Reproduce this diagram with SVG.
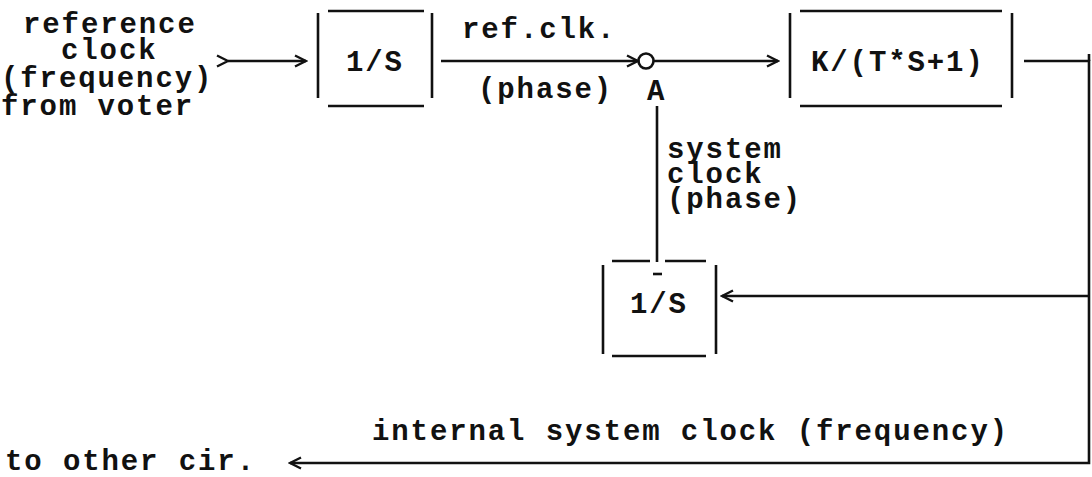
<svg xmlns="http://www.w3.org/2000/svg" width="1092" height="477" viewBox="0 0 1092 477">
  <style>
    .t { font-family: "Liberation Mono", "DejaVu Sans Mono", monospace; font-size: 29px; font-weight: bold; letter-spacing: 1.9px; fill: #111; }
    .ln { stroke: #111; stroke-width: 2.6; fill: none; }
    .wire { stroke: #111; stroke-width: 2.6; fill: none; }
  </style>
  <defs>
    <!-- typed-style open chevron used at both ends of the signal lines -->
    <marker id="chev" markerUnits="userSpaceOnUse" markerWidth="14" markerHeight="14" viewBox="0 0 14 14" refX="12" refY="7" orient="auto">
      <path d="M1,1.5 L12,7 L1,12.5" fill="none" stroke="#111" stroke-width="2.4"/>
    </marker>
  </defs>
  <rect width="1092" height="477" fill="#fff"/>

  <!-- input label -->
  <g id="input-label">
    <text class="t" x="23" y="33">reference</text>
    <text class="t" x="61" y="59">clock</text>
    <text class="t" x="1" y="87">(frequency)</text>
    <text class="t" x="1" y="115">from voter</text>
  </g>

  <!-- integrator on the reference path -->
  <g id="ref-integrator">
    <line class="ln" x1="318" y1="13" x2="318" y2="98"/>
    <line class="ln" x1="432" y1="13" x2="432" y2="98"/>
    <line class="ln" x1="328" y1="11" x2="424" y2="11"/>
    <line class="ln" x1="328" y1="106" x2="424" y2="106"/>
    <text class="t" x="346" y="71">1/S</text>
  </g>

  <!-- summing junction A -->
  <g id="junction-a">
    <circle cx="646" cy="61" r="7.5" fill="none" stroke="#111" stroke-width="2.6"/>
    <text class="t" x="647" y="100">A</text>
  </g>

  <!-- loop filter -->
  <g id="loop-filter">
    <line class="ln" x1="790" y1="13" x2="790" y2="98"/>
    <line class="ln" x1="1012" y1="13" x2="1012" y2="98"/>
    <line class="ln" x1="800" y1="11" x2="1002" y2="11"/>
    <line class="ln" x1="800" y1="106" x2="1002" y2="106"/>
    <text class="t" x="811" y="71">K/(T*S+1)</text>
  </g>

  <!-- integrator on the feedback path -->
  <g id="sys-integrator">
    <line class="ln" x1="603" y1="265" x2="603" y2="354"/>
    <line class="ln" x1="716" y1="265" x2="716" y2="354"/>
    <line class="ln" x1="612" y1="261" x2="650" y2="261"/>
    <line class="ln" x1="665" y1="261" x2="706" y2="261"/>
    <line class="ln" x1="612" y1="356" x2="706" y2="356"/>
    <line class="ln" x1="653" y1="274" x2="662" y2="274"/>
    <text class="t" x="630" y="313">1/S</text>
  </g>

  <!-- signal lines -->
  <g id="connectors">
    <path class="wire" d="M228,61 H306" marker-start="url(#chev)" marker-end="url(#chev)"/>
    <path class="wire" d="M441,61 H638" marker-end="url(#chev)"/>
    <path class="wire" d="M654,61 H778" marker-end="url(#chev)"/>
    <path class="wire" d="M1024,61 H1089 V463 H290" marker-end="url(#chev)"/>
    <path class="wire" d="M1089,54 V61"/>
    <path class="wire" d="M1089,296 H722" marker-end="url(#chev)"/>
    <path class="wire" d="M657,106 V262"/>
  </g>

  <!-- line labels -->
  <g id="labels">
    <text class="t" x="462" y="38">ref.clk.</text>
    <text class="t" x="478" y="98">(phase)</text>
    <text class="t" x="667" y="158">system</text>
    <text class="t" x="667" y="183">clock</text>
    <text class="t" x="667" y="208">(phase)</text>
    <text class="t" x="372" y="440">internal system clock (frequency)</text>
    <text class="t" x="5" y="470">to other cir.</text>
  </g>
</svg>
